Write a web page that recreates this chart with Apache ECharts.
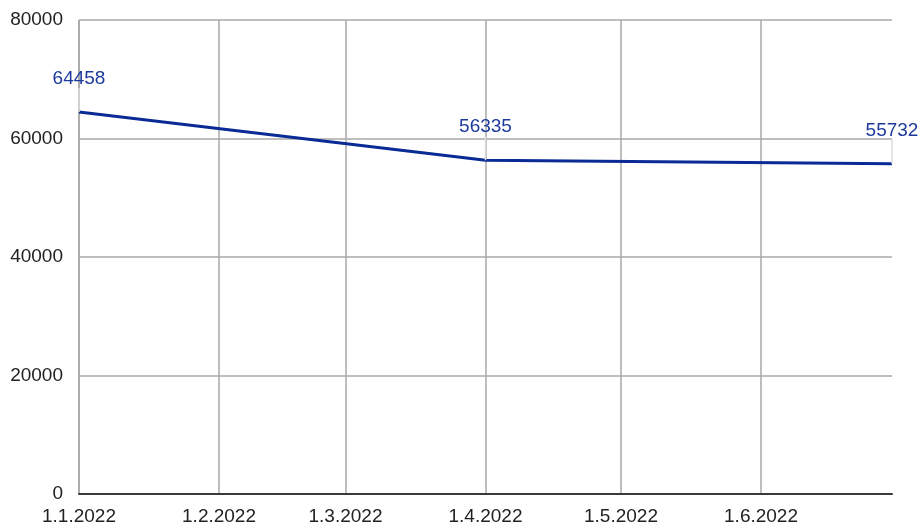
<!DOCTYPE html>
<html>
<head>
<meta charset="utf-8">
<script src="https://cdn.jsdelivr.net/npm/echarts@6/dist/echarts.min.js"></script>
<style>html,body{margin:0;padding:0;background:#fff}#c{width:921px;height:526px}</style>
</head>
<body>
<div id="c"></div>
<script>
var dates = ['2022-01-01', '2022-04-01', '2022-06-30'];
var values = [64458, 56335, 55732];
var yTicks = [0, 20000, 40000, 60000, 80000];

var chart = echarts.init(document.getElementById('c'), null, {renderer: 'canvas'});
var font = 'Liberation Sans, Arial, sans-serif';
chart.setOption({
  animation: false,
  grid: {left: 79, right: 29, top: 20, bottom: 28, containLabel: false},
  xAxis: {
    type: 'time',
    min: dates[0],
    max: dates[dates.length - 1],
    minInterval: 28 * 86400000,
    maxInterval: 31 * 86400000,
    axisLine: {show: true, lineStyle: {color: '#3a3a3a', width: 2}},
    axisTick: {show: false},
    splitLine: {show: true, showMaxLine: false, lineStyle: {color: '#a8a8a8', width: 1.5}},
    axisLabel: {
      formatter: function (v) { var d = new Date(v); return d.getDate() + '.' + (d.getMonth() + 1) + '.' + d.getFullYear(); },
      color: '#222', fontSize: 19, fontFamily: font, margin: 13, showMaxLabel: false, hideOverlap: false
    }
  },
  yAxis: {
    type: 'value',
    min: yTicks[0],
    max: yTicks[yTicks.length - 1],
    interval: yTicks[1] - yTicks[0],
    axisLine: {show: false},
    axisTick: {show: false},
    splitLine: {show: true, lineStyle: {color: '#a8a8a8', width: 1.5}},
    axisLabel: {color: '#222', fontSize: 19, fontFamily: font, margin: 16, formatter: function (v) { return String(v); }}
  },
  series: [{
    type: 'line',
    data: dates.map(function (d, i) { return [d, values[i]]; }),
    showSymbol: true,
    symbol: 'circle',
    symbolSize: 0.01,
    itemStyle: {color: '#0a2b96'},
    lineStyle: {color: '#0a2b96', width: 3},
    label: {show: true, position: 'top', distance: 4, color: '#1d3a9c', fontSize: 19, fontFamily: font},
    labelLayout: {dy: -20},
    labelLine: {show: true, lineStyle: {color: '#dddddd', width: 1.5}}
  }]
});
</script>
</body>
</html>
